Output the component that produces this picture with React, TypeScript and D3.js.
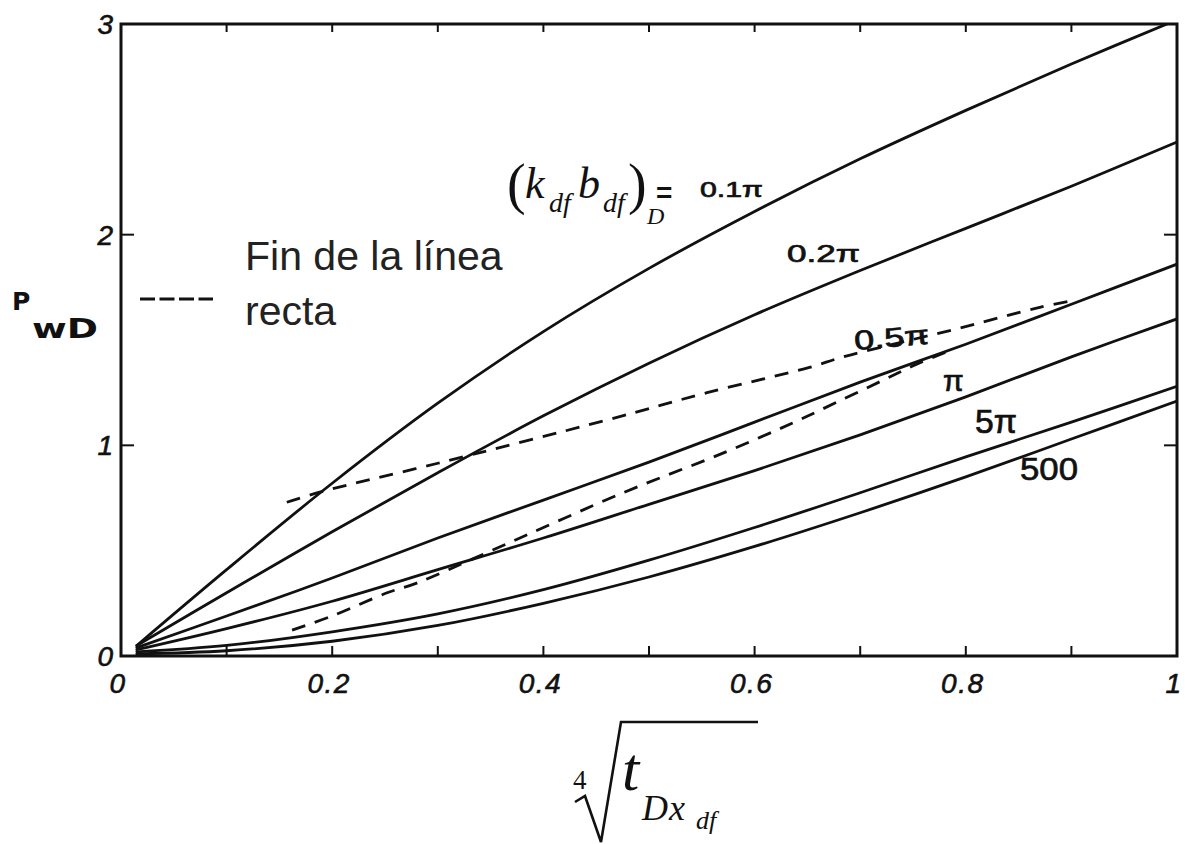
import React from 'react';
import * as d3 from 'd3';

// Dimensionless pressure p_wD against the fourth root of t_Dxdf,
// one curve per value of (k_df b_df)_D.
const tGrid = [0.015, 0.1, 0.2, 0.3, 0.4, 0.5, 0.6, 0.7, 0.8, 0.9, 1.0];
const pwd01pi = [0.05, 0.41, 0.82, 1.20, 1.54, 1.84, 2.11, 2.36, 2.59, 2.81, 3.02];
const pwd02pi = [0.05, 0.30, 0.59, 0.87, 1.14, 1.39, 1.62, 1.83, 2.03, 2.23, 2.44];
const pwd05pi = [0.04, 0.19, 0.37, 0.56, 0.74, 0.92, 1.11, 1.30, 1.48, 1.67, 1.86];
const pwdPi = [0.03, 0.13, 0.26, 0.41, 0.56, 0.72, 0.88, 1.05, 1.23, 1.42, 1.60];
const pwd5pi = [0.02, 0.05, 0.115, 0.20, 0.315, 0.455, 0.61, 0.775, 0.945, 1.11, 1.28];
const pwd500 = [0.01, 0.025, 0.07, 0.145, 0.25, 0.375, 0.52, 0.68, 0.85, 1.03, 1.21];

// "Fin de la línea recta" (end of the straight-line period) loci
const endUpperT = [0.157, 0.19, 0.30, 0.46, 0.555, 0.652, 0.684, 0.797, 0.87, 0.905];
const endUpperP = [0.73, 0.78, 0.915, 1.12, 1.25, 1.37, 1.42, 1.56, 1.655, 1.69];
const endLowerT = [0.162, 0.2, 0.252, 0.28, 0.352, 0.475, 0.57, 0.636, 0.662, 0.722, 0.754, 0.785];
const endLowerP = [0.123, 0.19, 0.30, 0.346, 0.503, 0.774, 0.963, 1.106, 1.167, 1.31, 1.386, 1.45];

const xTickValues = [0, 0.2, 0.4, 0.6, 0.8, 1];
const xTickLabels = ['0', '0.2', '0.4', '0.6', '0.8', '1'];
const xMinorTicks = [0.1, 0.2, 0.3, 0.4, 0.5, 0.6, 0.7, 0.8, 0.9];
const yTickValues = [0, 1, 2, 3];
const yTickLabels = ['0', '1', '2', '3'];

const curves = [pwd01pi, pwd02pi, pwd05pi, pwdPi, pwd5pi, pwd500];

const HAND = "'Liberation Sans', Arial, sans-serif";
const SERIF = "'Liberation Serif', 'Times New Roman', serif";

export default function App() {
  const x = d3.scaleLinear().domain([0, 1]).range([121, 1177]);
  const y = d3.scaleLinear().domain([0, 3]).range([656, 24]);

  const line = d3
    .line<[number, number]>()
    .x((d) => x(d[0]))
    .y((d) => y(d[1]))
    .curve(d3.curveCatmullRom.alpha(0.5));

  const zip = (ts: number[], ps: number[]) => ts.map((t, i) => [t, ps[i]] as [number, number]);

  const [x0, x1] = x.range();
  const [yb, yt] = y.range();

  return (
    <svg
      width={1185}
      height={844}
      style={{ position: 'absolute', left: 0, top: 0, background: '#fff' }}
    >
      <defs>
        <clipPath id="plot-area">
          <rect x={x0} y={yt} width={x1 - x0} height={yb - yt} />
        </clipPath>
      </defs>

      {/* curves */}
      <g clipPath="url(#plot-area)" fill="none" stroke="#111" strokeWidth={2.8} strokeLinecap="round">
        {curves.map((c, i) => (
          <path key={i} d={line(zip(tGrid, c)) || ''} />
        ))}
        <path d={line(zip(endUpperT, endUpperP)) || ''} strokeDasharray="14 10" strokeLinecap="butt" />
        <path d={line(zip(endLowerT, endLowerP)) || ''} strokeDasharray="14 10" strokeLinecap="butt" />
      </g>

      {/* frame */}
      <rect x={x0} y={yt} width={x1 - x0} height={yb - yt} fill="none" stroke="#111" strokeWidth={3} />

      {/* ticks */}
      <g stroke="#111" strokeWidth={2}>
        {xMinorTicks.map((t) => (
          <g key={t}>
            <line x1={x(t)} x2={x(t)} y1={yb} y2={yb - 10} />
            <line x1={x(t)} x2={x(t)} y1={yt} y2={yt + 8} />
          </g>
        ))}
        {[1, 2].map((v) => (
          <g key={v}>
            <line x1={x0} x2={x0 + 13} y1={y(v)} y2={y(v)} />
            <line x1={x1} x2={x1 - 13} y1={y(v)} y2={y(v)} />
          </g>
        ))}
      </g>

      {/* tick labels */}
      <g fontFamily={HAND} fontStyle="italic" fontSize={28} fill="#111" stroke="#111" strokeWidth={0.6}>
        {xTickValues.map((t, i) => (
          <text key={t} x={x(t) - 3} y={693} textAnchor="middle" letterSpacing={1.5}>
            {xTickLabels[i]}
          </text>
        ))}
        {yTickValues.map((v, i) => (
          <text key={v} x={113} y={y(v) + 10} textAnchor="end">
            {yTickLabels[i]}
          </text>
        ))}
      </g>

      {/* y axis title */}
      <g fontFamily="'DejaVu Sans', sans-serif" fontWeight="bold" fill="#111">
        <text x={12} y={310} fontSize={25}>P</text>
        <text x={32} y={338} fontSize={27} textLength={66} lengthAdjust="spacingAndGlyphs">wD</text>
      </g>

      {/* legend */}
      <line x1={140} x2={213} y1={299} y2={299} stroke="#111" strokeWidth={3} strokeDasharray="15 4.5" />
      <g fontFamily="'Liberation Sans', Arial, sans-serif" fontSize={41} fill="#222">
        <text x={245} y={270}>Fin de la línea</text>
        <text x={245} y={325}>recta</text>
      </g>

      {/* curve parameter label */}
      <g fill="#111">
        <text fontFamily={SERIF} fontSize={56} x={507} y={203}>(</text>
        <text fontFamily={SERIF} fontStyle="italic" fontSize={44} x={525} y={198}>k</text>
        <text fontFamily={SERIF} fontStyle="italic" fontSize={28} x={549} y={212}>df</text>
        <text fontFamily={SERIF} fontStyle="italic" fontSize={44} x={578} y={198}>b</text>
        <text fontFamily={SERIF} fontStyle="italic" fontSize={28} x={603} y={212}>df</text>
        <text fontFamily={SERIF} fontSize={56} x={628} y={203}>)</text>
        <text fontFamily={SERIF} fontStyle="italic" fontSize={24} x={647} y={224}>D</text>
        <text fontFamily={HAND} fontWeight="bold" fontSize={28} x={656} y={202}>=</text>
      </g>
      <g fontFamily={HAND} fill="#111" stroke="#111" strokeWidth={0.7}>
        <text x={700} y={197} fontSize={22} textLength={63} lengthAdjust="spacingAndGlyphs">0.1π</text>
        <text x={787} y={262} fontSize={24} textLength={73} lengthAdjust="spacingAndGlyphs">0.2π</text>
        <text x={855} y={350} fontSize={27} textLength={75} lengthAdjust="spacingAndGlyphs" transform="rotate(-5 855 350)">0.5π</text>
        <text x={943} y={391} fontSize={30}>π</text>
        <text x={975} y={433} fontSize={33} textLength={42} lengthAdjust="spacingAndGlyphs">5π</text>
        <text x={1020} y={480} fontSize={32} textLength={58} lengthAdjust="spacingAndGlyphs">500</text>
      </g>

      {/* x axis title: fourth root of t_Dxdf */}
      <path d="M575,802 L585,796 L601,842 L621,722 L758,722" fill="none" stroke="#111" strokeWidth={2.6} strokeLinejoin="miter" />
      <g fontFamily={SERIF} fontStyle="italic" fill="#111">
        <text x={573} y={789} fontSize={27} fontStyle="normal">4</text>
        <text x={622} y={790} fontSize={62}>t</text>
        <text x={642} y={820} fontSize={36}>D</text>
        <text x={669} y={820} fontSize={36}>x</text>
        <text x={696} y={829} fontSize={26}>df</text>
      </g>
    </svg>
  );
}
